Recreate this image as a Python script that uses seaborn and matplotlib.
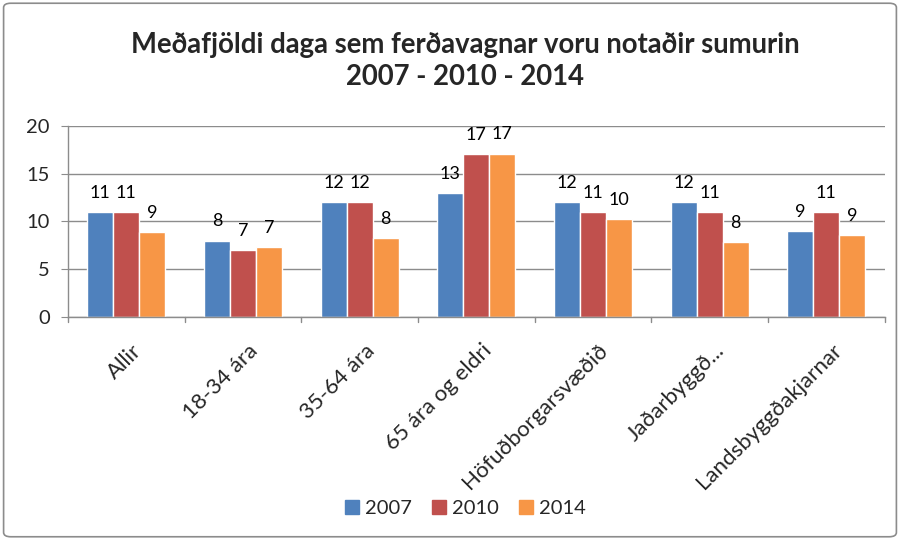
import matplotlib
matplotlib.use("Agg")
import matplotlib.pyplot as plt
import matplotlib.transforms as mtransforms
import seaborn as sns
import pandas as pd
from matplotlib.patches import FancyBboxPatch

categories = ["Allir", "18-34 ára", "35-64 ára", "65 ára og eldri",
              "Höfuðborgarsvæðið", "Jaðarbyggð...", "Landsbyggðakjarnar"]
years = ["2007", "2010", "2014"]
v2007 = [11, 8, 12, 13, 12, 12, 9]
v2010 = [11, 7, 12, 17, 11, 11, 11]
v2014 = [8.9, 7.3, 8.3, 17.1, 10.2, 7.8, 8.6]
yticks = [0, 5, 10, 15, 20]
colors = ["#4F81BD", "#C0504D", "#F79646"]

rows = []
for yr, vals in zip(years, [v2007, v2010, v2014]):
    for c, v in zip(categories, vals):
        rows.append({"cat": c, "year": yr, "val": v})
df = pd.DataFrame(rows)

sns.set_style("white")
plt.rcParams["font.family"] = ["Lato", "DejaVu Sans"]

fig = plt.figure(figsize=(9, 5.4), dpi=100)
ax = fig.add_axes([0.0756, 0.413, 0.9074, 0.354])

sns.barplot(data=df, x="cat", y="val", hue="year", palette=colors,
            width=0.67, gap=0, saturation=1, ax=ax, errorbar=None, legend=False)

for cont in ax.containers:
    ax.bar_label(cont, fmt="%.0f", padding=8, fontsize=13, color="black")

ax.set_ylim(0, 20)
ax.set_yticks(yticks)
ax.set_yticklabels([str(t) for t in yticks], fontsize=14.5)
ax.yaxis.grid(True, color="#8c8c8c", linewidth=1)
ax.set_axisbelow(True)
ax.set_xlim(-0.5, len(categories) - 0.5)
ax.set_xlabel("")
ax.set_ylabel("")
ax.set_xticks(range(len(categories)))
ax.set_xticklabels(categories, rotation=45, ha="right", va="center",
                   rotation_mode="anchor", fontsize=16)
ax.tick_params(axis="x", length=0, pad=22)
ax.tick_params(axis="y", left=True, length=5, color="#8c8c8c", pad=8)
offset = mtransforms.ScaledTranslation(0.12, 0, fig.dpi_scale_trans)
for lab in ax.get_xticklabels():
    lab.set_transform(lab.get_transform() + offset)
for b in [i - 0.5 for i in range(len(categories) + 1)]:
    ax.plot([b, b], [0, -0.5], color="#8c8c8c", lw=1, clip_on=False)
for s in ["top", "right"]:
    ax.spines[s].set_visible(False)
for s in ["left", "bottom"]:
    ax.spines[s].set_color("#8c8c8c")
    ax.spines[s].set_linewidth(1)

handles = [plt.Rectangle((0, 0), 1, 1, color=c) for c in colors]
fig.legend(handles, years, loc="center", bbox_to_anchor=(0.517, 0.059), ncol=3,
           frameon=False, fontsize=14.5, handlelength=0.7, handleheight=0.7,
           handletextpad=0.3, columnspacing=1.0)

fig.text(0.517, 0.917, "Meðafjöldi daga sem ferðavagnar voru notaðir sumurin",
         ha="center", va="center", fontsize=19.8, fontweight="bold")
fig.text(0.517, 0.857, "2007 - 2010 - 2014", ha="center", va="center",
         fontsize=19.8, fontweight="bold")

border = FancyBboxPatch((0.004, 0.006), 0.992, 0.988, boxstyle="round,pad=0,rounding_size=0.008",
                        transform=fig.transFigure, fill=False, edgecolor="#8c8c8c", lw=1.2)
fig.patches.append(border)

fig.savefig("out.png", dpi=100)
